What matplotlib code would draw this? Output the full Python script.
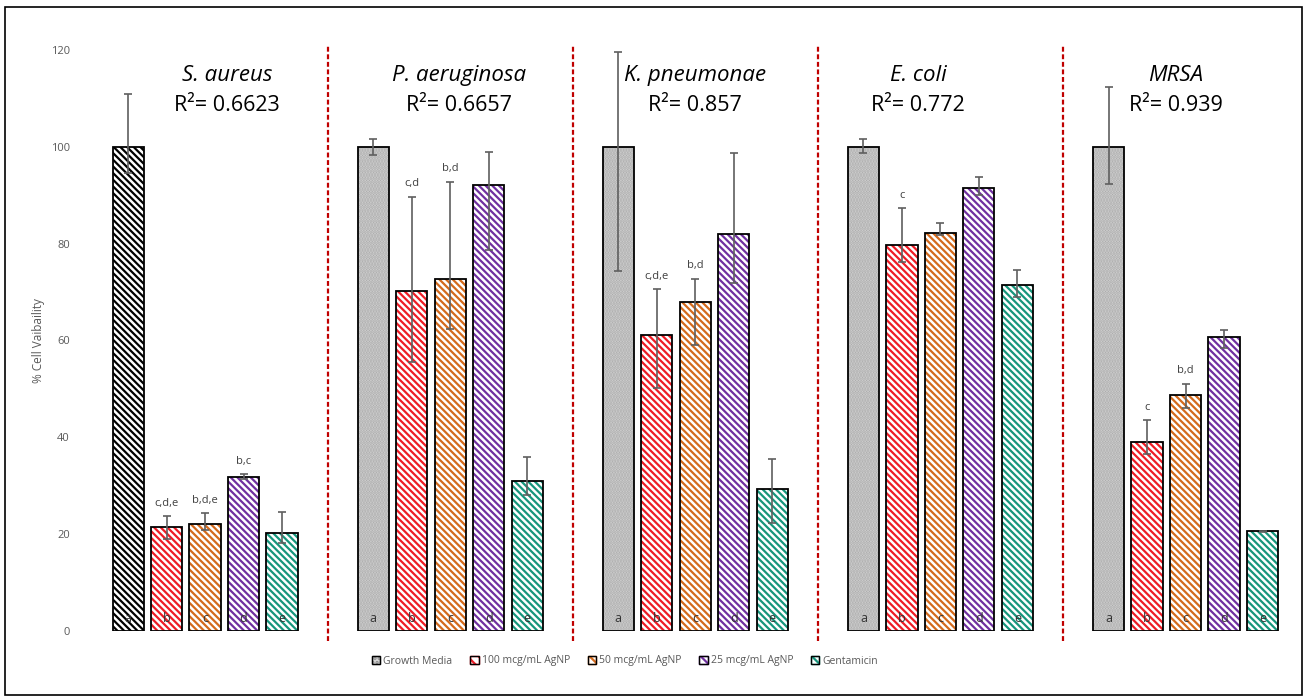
import numpy as np
import matplotlib
matplotlib.use("Agg")
import matplotlib.pyplot as plt
from matplotlib.patches import Rectangle, Patch
from matplotlib.legend_handler import HandlerTuple

plt.rcParams['font.family'] = ['Open Sans', 'DejaVu Sans']
plt.rcParams['hatch.linewidth'] = 1.6

# data
species = ["S. aureus", "P. aeruginosa", "K. pneumonae", "E. coli", "MRSA"]
r2_values = ["0.6623", "0.6657", "0.857", "0.772", "0.939"]
treatments = ["Growth Media", "100 mcg/mL AgNP", "50 mcg/mL AgNP",
              "25 mcg/mL AgNP", "Gentamicin"]
bar_letters = ["a", "b", "c", "d", "e"]

growth = [100, 100, 100, 100, 100]
ag100 = [21.4, 70.3, 61.2, 79.7, 39.0]
ag50 = [22.1, 72.8, 68.0, 82.3, 48.7]
ag25 = [31.8, 92.2, 82.0, 91.5, 60.7]
gent = [20.3, 30.9, 29.3, 71.5, 20.6]

growth_hi = [11.0, 1.6, 19.5, 1.6, 12.3]
growth_lo = [5.5, 1.7, 25.7, 1.2, 7.6]
ag100_hi = [2.4, 19.4, 9.4, 7.7, 4.6]
ag100_lo = [2.4, 14.7, 11.0, 3.5, 2.4]
ag50_hi = [2.2, 20.0, 4.8, 1.9, 2.4]
ag50_lo = [1.3, 10.4, 8.9, 0.6, 2.7]
ag25_hi = [0.6, 6.8, 16.8, 2.3, 1.5]
ag25_lo = [0.4, 13.6, 10.1, 1.4, 2.2]
gent_hi = [4.2, 5.0, 6.3, 3.0, 0.1]
gent_lo = [2.1, 2.9, 6.9, 2.6, 0.1]

# significance letters above bars, per treatment then per species
sig_ag100 = ["c,d,e", "c,d", "c,d,e", "c", "c"]
sig_ag50 = ["b,d,e", "b,d", "b,d", "", "b,d"]
sig_ag25 = ["b,c", "", "", "", ""]

values = [growth, ag100, ag50, ag25, gent]
err_hi = [growth_hi, ag100_hi, ag50_hi, ag25_hi, gent_hi]
err_lo = [growth_lo, ag100_lo, ag50_lo, ag25_lo, gent_lo]
sig = [["", "", "", "", ""], sig_ag100, sig_ag50, sig_ag25, ["", "", "", "", ""]]

# styling
colors = ["#9a9a9a", "#ee1c25", "#d46a1c", "#7030a0", "#16957c"]
title_dx = [0.09, 0.035, 0.0, -0.09, -0.04]
stripes = "\\" * 5
pitch = 0.157
width = 0.127

fig = plt.figure(figsize=(13.06, 7.0), dpi=100)
ax = fig.add_axes([82.5 / 1306, 69 / 700, (1288.5 - 82.5) / 1306, 581 / 700])

groups = np.arange(len(species))
legend_handles = []
for i, name in enumerate(treatments):
    x = groups + (i - 2) * pitch
    vals = np.array(values[i])
    if i == 0:
        # first species uses black stripes, others grey stipple
        ax.bar(x[:1], vals[:1], width, color="white", edgecolor="black",
               hatch=stripes, linewidth=0, zorder=2)
        ax.bar(x[1:], vals[1:], width, color="#d6d6d6", edgecolor="#ababab",
               hatch="......", linewidth=0, zorder=2)
        hatch_proxy = Patch(facecolor="#d6d6d6", edgecolor="#8a8a8a", hatch="....")
    else:
        ax.bar(x, vals, width, color="white", edgecolor=colors[i],
               hatch=stripes, linewidth=0, zorder=2)
        hatch_proxy = Patch(facecolor="white", edgecolor=colors[i], hatch="\\\\\\")
    ax.bar(x, vals, width, color="none", edgecolor="black", linewidth=1.3, zorder=3)
    ax.errorbar(x, vals, yerr=[err_lo[i], err_hi[i]], fmt="none",
                ecolor="#5f5f5f", elinewidth=1.2, capsize=3, capthick=1.2, zorder=4)
    for g in groups:
        ax.text(x[g], 1.2, bar_letters[i], ha="center", va="bottom",
                fontsize=9, color="#333333", zorder=5)
        if sig[i][g]:
            ax.text(x[g], vals[g] + err_hi[i][g] + 1.5, sig[i][g], ha="center",
                    va="bottom", fontsize=8, color="#404040", zorder=5)
    outline = Patch(facecolor="none", edgecolor="black", linewidth=1.0)
    legend_handles.append((hatch_proxy, outline))

for g in groups[:-1]:
    ax.plot([g + 0.5, g + 0.5], [-2, 121], color="#c00000", linestyle=(0, (2.2, 1.2)),
            linewidth=1.6, clip_on=False, zorder=1)

for g in groups:
    ax.text(g + title_dx[g], 114.8, species[g], ha="center", va="center",
            fontsize=16, style="italic", color="black")
    ax.text(g + title_dx[g], 108.6, "R\u00b2= " + r2_values[g], ha="center",
            va="center", fontsize=15.5, color="black")

ax.set_xlim(-0.5, 4.42)
ax.set_ylim(0, 120)
ax.set_yticks(np.arange(0, 121, 20))
ax.set_xticks([])
ax.tick_params(axis="y", length=0, labelsize=8, labelcolor="#595959", pad=9)
for s in ax.spines.values():
    s.set_visible(False)
ax.set_ylabel("% Cell Vaibaility", fontsize=8.5, color="#595959", labelpad=4)

fig.legend(legend_handles, treatments, ncol=5, loc="center",
           bbox_to_anchor=(625 / 1306, 1 - 661 / 700), frameon=False,
           handler_map={tuple: HandlerTuple(ndivide=1, pad=0)},
           handlelength=0.8, handleheight=0.8, handletextpad=0.3,
           columnspacing=1.7, fontsize=7.5, labelcolor="#595959")

fig.patches.append(Rectangle((5 / 1306, 5 / 700), 1297 / 1306, 688 / 700,
                             transform=fig.transFigure, fill=False,
                             edgecolor="black", linewidth=1.2))

fig.savefig("out.png", dpi=100)
